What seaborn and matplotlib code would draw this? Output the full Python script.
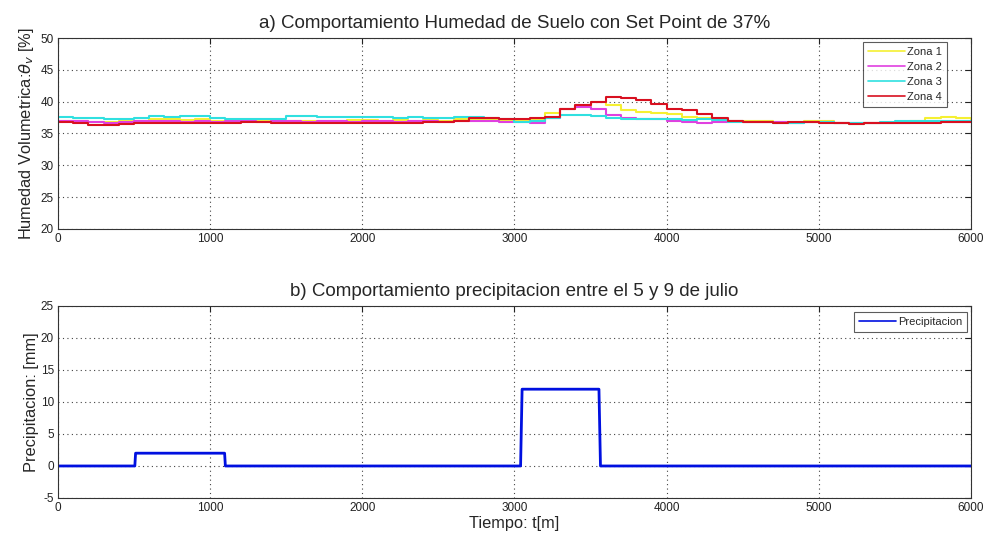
import numpy as np
import pandas as pd
import matplotlib
matplotlib.use("Agg")
import matplotlib.pyplot as plt
import seaborn as sns

# ---------------- data ----------------
t_min = list(range(0, 6001, 100))

zona1 = [36.9, 36.9, 36.8, 36.8, 36.9, 37.0, 37.2, 37.2, 37.1, 37.2, 37.0,
         36.9, 36.9, 36.9, 36.8, 36.9, 36.9, 36.9, 36.9, 37.1, 37.1,
         37.0, 37.1, 37.0, 37.1, 37.0, 37.3, 37.3, 37.2, 37.0, 36.9,
         37.3, 38.2, 38.8, 39.3, 40.0, 39.4, 38.7, 38.4, 38.2, 38.0,
         37.6, 37.4, 37.1, 37.0, 36.9, 36.9, 36.8, 36.8, 36.9, 36.9,
         36.6, 36.5, 36.6, 36.7, 36.8, 36.9, 37.4, 37.6, 37.5, 37.2]
zona2 = [37.0, 36.9, 36.8, 36.7, 36.8, 36.9, 36.9, 36.9, 36.8, 36.9, 36.8,
         36.9, 36.9, 36.8, 36.9, 36.9, 36.8, 36.9, 36.9, 36.8, 36.9,
         36.9, 36.8, 36.9, 36.9, 36.8, 36.9, 36.9, 36.9, 36.8, 36.8,
         36.6, 37.4, 38.9, 39.2, 38.8, 37.9, 37.5, 37.3, 37.2, 37.0,
         36.8, 36.7, 36.8, 36.9, 36.8, 36.8, 36.8, 36.7, 36.8, 36.8,
         36.7, 36.6, 36.6, 36.7, 36.7, 36.8, 36.8, 36.8, 36.8, 36.8]
zona3 = [37.6, 37.5, 37.4, 37.3, 37.3, 37.4, 37.8, 37.6, 37.7, 37.7, 37.4,
         37.2, 37.2, 37.3, 37.3, 37.7, 37.7, 37.6, 37.6, 37.6, 37.6,
         37.6, 37.5, 37.6, 37.5, 37.5, 37.6, 37.6, 37.5, 37.3, 36.8,
         37.0, 37.4, 37.9, 37.9, 37.7, 37.5, 37.3, 37.3, 37.3, 37.2,
         37.1, 37.3, 37.1, 36.8, 36.8, 36.8, 36.7, 36.7, 36.8, 36.8,
         36.7, 36.6, 36.7, 36.8, 36.9, 36.9, 36.9, 36.9, 36.9, 36.9]
zona4 = [36.8, 36.6, 36.4, 36.3, 36.5, 36.6, 36.7, 36.7, 36.7, 36.6, 36.6,
         36.7, 36.8, 36.8, 36.7, 36.7, 36.7, 36.7, 36.7, 36.7, 36.7,
         36.7, 36.7, 36.7, 36.8, 36.8, 36.9, 37.5, 37.4, 37.3, 37.2,
         37.4, 37.6, 38.8, 39.4, 39.9, 40.8, 40.5, 40.2, 39.7, 38.9,
         38.7, 38.0, 37.5, 37.0, 36.8, 36.8, 36.7, 36.8, 36.8, 36.7,
         36.6, 36.5, 36.6, 36.6, 36.7, 36.7, 36.7, 36.8, 36.8, 36.8]
zone_names = ["Zona 1", "Zona 2", "Zona 3", "Zona 4"]
zone_colors = ["#f5f032", "#e040e0", "#30e0e0", "#d81020"]

t_prec = [0, 505, 510, 1095, 1100, 3040, 3045, 3050, 3555, 3560, 3565, 6000]
prec = [0, 0, 2, 2, 0, 0, 6, 12, 12, 6, 0, 0]

xticks = [0, 1000, 2000, 3000, 4000, 5000, 6000]
yticks_top = [20, 25, 30, 35, 40, 45, 50]
yticks_bot = [-5, 0, 5, 10, 15, 20, 25]

# ---------------- styling ----------------
sns.set_style("white")
plt.rcParams["font.family"] = ["Liberation Sans", "DejaVu Sans"]
plt.rcParams["mathtext.fontset"] = "dejavusans"
plt.rcParams["axes.unicode_minus"] = False

fig = plt.figure(figsize=(9.86, 5.33), dpi=100)
ax1 = fig.add_axes([0.0588, 0.5704, 0.926, 0.3583])
ax2 = fig.add_axes([0.0588, 0.0657, 0.926, 0.3602])

df = pd.DataFrame({
    "t": t_min * 4,
    "h": zona1 + zona2 + zona3 + zona4,
    "zona": sum([[z] * len(t_min) for z in zone_names], []),
})
sns.lineplot(data=df, x="t", y="h", hue="zona", hue_order=zone_names,
             palette=zone_colors, drawstyle="steps-post", linewidth=1.5,
             ax=ax1, legend=True)

dfp = pd.DataFrame({"t": t_prec, "p": prec})
sns.lineplot(data=dfp, x="t", y="p", color="#0010e0", linewidth=2,
             ax=ax2, label="Precipitacion")


def style(ax, yticks):
    ax.set_xlim(0, 6000)
    ax.set_ylim(yticks[0], yticks[-1])
    ax.set_xticks(xticks)
    ax.set_yticks(yticks)
    ax.grid(True, linestyle=(0, (1, 3)), color="#444444", linewidth=0.8)
    ax.tick_params(direction="in", length=4, width=0.8, labelsize=8.5,
                   top=True, right=True, colors="#222222", pad=3)
    for s in ax.spines.values():
        s.set_visible(True)
        s.set_color("#333333")
        s.set_linewidth(0.8)
    ax.set_axisbelow(True)


style(ax1, yticks_top)
style(ax2, yticks_bot)

ax1.set_title("a) Comportamiento Humedad de Suelo con Set Point de 37%",
              fontsize=13.5, pad=7)
ax1.set_xlabel("")
ax1.set_ylabel(r"Humedad Volumetrica:$\theta_v$ [%]", fontsize=11.8, labelpad=3)

ax2.set_title("b) Comportamiento precipitacion entre el 5 y 9 de julio",
              fontsize=13.5, pad=7)
ax2.set_xlabel("Tiempo: t[m]", fontsize=11.8, labelpad=1)
ax2.set_ylabel("Precipitacion: [mm]", fontsize=11.8, labelpad=1)

legend_anchor = {ax1: (0.9737, 0.979), ax2: (0.9956, 0.969)}
for ax in (ax1, ax2):
    leg = ax.legend(loc="upper right", bbox_to_anchor=legend_anchor[ax],
                    fontsize=8, frameon=True, fancybox=False,
                    handlelength=3.3, borderpad=0.45, labelspacing=0.45,
                    handletextpad=0.2, borderaxespad=0)
    leg.get_frame().set_edgecolor("#333333")
    leg.get_frame().set_linewidth(0.8)
    for line in leg.get_lines():
        line.set_linewidth(1.2)

fig.savefig("out.png", dpi=100)
